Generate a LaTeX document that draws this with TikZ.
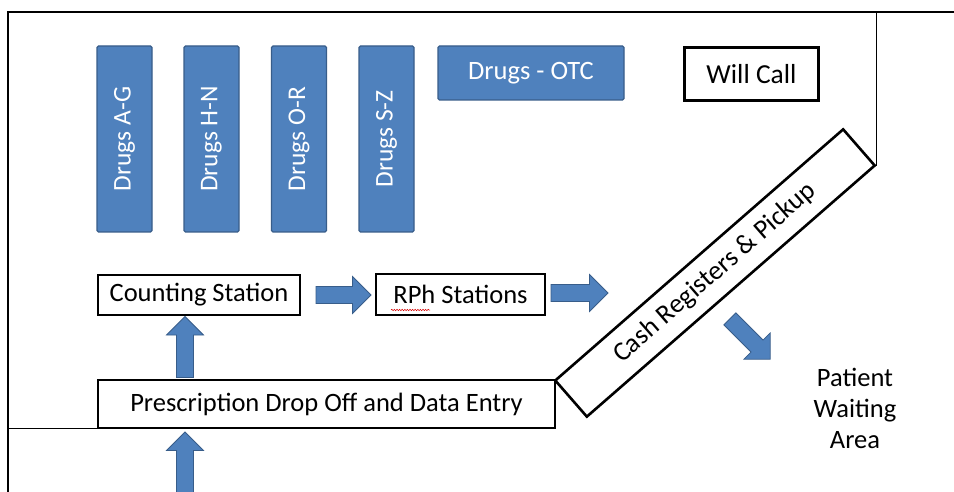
\documentclass[tikz,border=0pt]{standalone}
\usepackage{fontspec}
\setmainfont{Carlito}
\usetikzlibrary{decorations.pathmorphing}

\definecolor{shelfblue}{HTML}{4F81BD}
\definecolor{shelfedge}{HTML}{385D8A}

\tikzset{
  txt/.style={font=\fontsize{26.5}{31}\selectfont},
  shelf/.style={draw=shelfedge, line width=1.4pt, fill=shelfblue, rounded corners=1.5pt,
    text=white, inner sep=0pt, txt},
  shelflabel/.style={rotate=90, text=white, inner sep=0pt, font=\fontsize{25.5}{30}\selectfont},
  station/.style={draw=black, line width=2.6pt, fill=white, inner sep=0pt, txt},
  wall/.style={draw=black, line width=2.6pt},
  thinwall/.style={draw=black, line width=0.9pt},
  waitlabel/.style={txt, align=center, inner sep=0pt},
  % block arrow of a given length, centred on its position, pointing along +x
  pics/blockarrow/.style={code={
    \filldraw[fill=shelfblue, draw=shelfedge, line width=0.8pt]
      (-#1/2,-8.5) -- (#1/2-18.5,-8.5) -- (#1/2-18.5,-18.5) -- (#1/2,0)
      -- (#1/2-18.5,18.5) -- (#1/2-18.5,8.5) -- (-#1/2,8.5) -- cycle;
  }}
}

\begin{document}
\begin{tikzpicture}[x=1pt, y=-1pt]
  \clip (0,0) rectangle (954,492);
  \fill[white] (0,0) rectangle (954,492);

  % walls of the pharmacy
  \draw[wall] (954,12) -- (8,12) -- (8,494);
  \draw[thinwall] (876,12) -- (876,166);
  \draw[thinwall] (8,428) -- (98,428);

  % drug shelves
  \node[shelf, minimum width=55pt, minimum height=186pt] (ag) at (124.5,139) {};
  \node[shelflabel] at (ag.center) {Drugs A-G};
  \node[shelf, minimum width=55pt, minimum height=186pt] (hn) at (211.5,139) {};
  \node[shelflabel] at (hn.center) {Drugs H-N};
  \node[shelf, minimum width=55pt, minimum height=186pt] (or) at (299,139) {};
  \node[shelflabel] at (or.center) {Drugs O-R};
  \node[shelf, minimum width=55pt, minimum height=186pt] (sz) at (386.5,139) {};
  \node[shelflabel] at (sz.center) {Drugs S-Z};
  \node[shelf, minimum width=186pt, minimum height=54pt] (otc) at (531,73) {Drugs - OTC};

  % counters
  \node[station, minimum width=134pt, minimum height=53pt, font=\fontsize{27.5}{31}\selectfont]
    (will) at (751.5,74) {Will Call};
  \node[station, minimum width=202pt, minimum height=40pt] (count) at (199,295) {Counting Station};
  \node[station, minimum width=169pt, minimum height=41pt] (rph) at (460.5,294.5) {RPh Stations};
  \node[station, minimum width=457pt, minimum height=48pt] (rx) at (326.5,404) {Prescription Drop Off and Data Entry};
  \node[station, rotate=41.1, minimum width=382pt, minimum height=48pt,
        font=\fontsize{27}{31}\selectfont] (cash) at (715,273) {Cash Registers \& Pickup};

  % spell-check underline under RPh
  \coordinate (squigA) at (391,310);
  \coordinate (squigB) at (430,310);
  \draw[red!85!black, line width=0.5pt, decorate,
        decoration={snake, amplitude=0.7pt, segment length=2.6pt}] (squigA) -- (squigB);

  % waiting area
  \node[waitlabel] (wait) at (855,408) {Patient\\Waiting\\Area};

  % flow of a prescription
  \pic[rotate=90] (up1) at (185,347) {blockarrow=61};
  \pic[rotate=90] (up2) at (185,463) {blockarrow=62};
  \pic (right1) at (343.5,295) {blockarrow=55};
  \pic (right2) at (579.5,293) {blockarrow=57};
  \pic[rotate=-45] (down) at (750,339) {blockarrow=57};
\end{tikzpicture}
\end{document}
